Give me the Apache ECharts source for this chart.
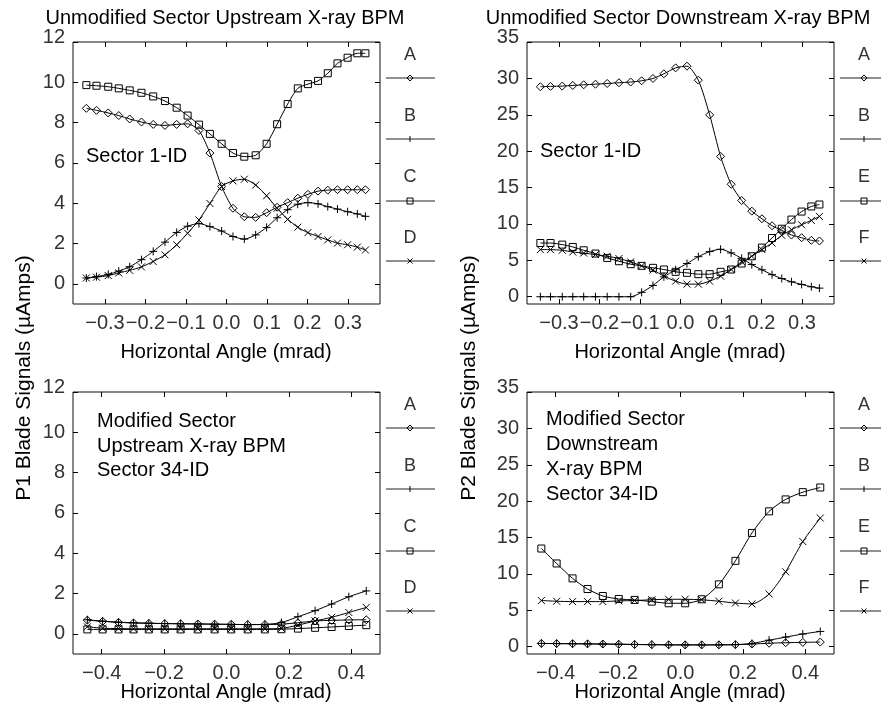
<!DOCTYPE html>
<html>
<head>
<meta charset="utf-8">
<script src="https://cdn.jsdelivr.net/npm/echarts@6/dist/echarts.min.js"></script>
<style>
  html, body { margin: 0; padding: 0; background: #fff; }
  #chart { width: 881px; height: 704px; }
</style>
</head>
<body>
<div id="chart"></div>
<script>
// Horizontal angle of each scan point (mrad)
const scanXSector1 = [-0.346, -0.321, -0.292, -0.266, -0.239, -0.210, -0.181, -0.152, -0.123,
  -0.096, -0.068, -0.041, -0.012, 0.016, 0.044, 0.072, 0.099, 0.125, 0.151, 0.176, 0.201,
  0.226, 0.250, 0.274, 0.299, 0.323, 0.343];
const scanXSector34 = [-0.446, -0.397, -0.346, -0.298, -0.249, -0.198, -0.147, -0.092, -0.038,
  0.015, 0.068, 0.123, 0.176, 0.229, 0.284, 0.337, 0.392, 0.448];

// Sector 1-ID, upstream BPM (P1) blade signals, µA
const s1UpA = [8.71, 8.61, 8.48, 8.35, 8.18, 8.03, 7.91, 7.86, 7.91, 7.94, 7.61, 6.49, 4.83,
  3.75, 3.33, 3.30, 3.53, 3.80, 4.03, 4.25, 4.44, 4.60, 4.65, 4.67, 4.67, 4.67, 4.67];
const s1UpB = [0.29, 0.36, 0.47, 0.63, 0.85, 1.20, 1.61, 2.07, 2.55, 2.86, 2.99, 2.84, 2.62,
  2.35, 2.22, 2.43, 2.80, 3.28, 3.68, 3.95, 4.03, 3.97, 3.83, 3.71, 3.58, 3.47, 3.35];
const s1UpC = [9.86, 9.83, 9.78, 9.70, 9.60, 9.48, 9.30, 9.07, 8.74, 8.35, 7.90, 7.44, 6.95,
  6.49, 6.31, 6.38, 6.95, 7.92, 8.92, 9.70, 9.91, 10.07, 10.45, 10.94, 11.22, 11.44, 11.44];
const s1UpD = [0.29, 0.33, 0.41, 0.54, 0.67, 0.84, 1.11, 1.44, 1.94, 2.51, 3.17, 3.99, 4.83,
  5.11, 5.19, 4.90, 4.37, 3.75, 3.20, 2.81, 2.54, 2.35, 2.18, 2.02, 1.94, 1.82, 1.68];

// Sector 1-ID, downstream BPM (P2) blade signals, µA
const s1DnA = [28.85, 28.90, 28.94, 29.03, 29.12, 29.20, 29.30, 29.40, 29.50, 29.67, 29.99,
  30.63, 31.45, 31.68, 29.76, 24.98, 19.28, 15.45, 13.22, 11.76, 10.71, 9.75, 9.12, 8.48,
  8.11, 7.75, 7.66];
const s1DnB = [0, 0, 0, 0, 0, 0, 0, 0, 0, 0.60, 1.55, 2.73, 3.70, 4.56, 5.50, 6.20, 6.52,
  6.02, 5.28, 4.42, 3.70, 3.03, 2.50, 2.05, 1.69, 1.37, 1.18];
const s1DnE = [7.38, 7.38, 7.16, 6.84, 6.38, 5.93, 5.33, 4.88, 4.47, 4.24, 3.97, 3.74, 3.42,
  3.28, 3.10, 3.10, 3.42, 3.74, 4.56, 5.56, 6.75, 8.07, 9.34, 10.60, 11.70, 12.40, 12.67];
const s1DnF = [6.47, 6.47, 6.38, 6.15, 6.00, 5.79, 5.56, 5.24, 4.79, 4.24, 3.65, 2.83, 2.14,
  1.73, 1.73, 2.14, 2.83, 3.74, 4.79, 5.56, 6.47, 7.38, 8.43, 9.20, 9.89, 10.48, 11.03];

// Sector 34-ID, upstream BPM (P1) blade signals, µA
const s34UpA = [0.68, 0.62, 0.57, 0.54, 0.52, 0.51, 0.50, 0.49, 0.48, 0.47, 0.46, 0.46, 0.48,
  0.55, 0.64, 0.67, 0.69, 0.70];
const s34UpB = [0.70, 0.63, 0.58, 0.55, 0.53, 0.51, 0.50, 0.49, 0.48, 0.47, 0.46, 0.47, 0.56,
  0.85, 1.15, 1.48, 1.84, 2.13];
const s34UpC = [0.22, 0.22, 0.22, 0.22, 0.22, 0.22, 0.22, 0.22, 0.22, 0.22, 0.22, 0.22, 0.23,
  0.26, 0.30, 0.34, 0.39, 0.43];
const s34UpD = [0.35, 0.28, 0.26, 0.25, 0.25, 0.25, 0.25, 0.25, 0.25, 0.25, 0.25, 0.25, 0.27,
  0.43, 0.64, 0.82, 1.06, 1.31];

// Sector 34-ID, downstream BPM (P2) blade signals, µA
const s34DnA = [0.45, 0.43, 0.41, 0.39, 0.37, 0.34, 0.31, 0.28, 0.26, 0.25, 0.25, 0.26, 0.28,
  0.36, 0.48, 0.55, 0.60, 0.64];
const s34DnB = [0.45, 0.43, 0.41, 0.39, 0.37, 0.34, 0.31, 0.28, 0.26, 0.25, 0.25, 0.26, 0.29,
  0.45, 0.90, 1.32, 1.75, 2.10];
const s34DnE = [13.49, 11.44, 9.39, 7.93, 6.97, 6.56, 6.43, 6.20, 5.97, 5.97, 6.52, 8.57,
  11.80, 15.63, 18.60, 20.24, 21.24, 21.88];
const s34DnF = [6.35, 6.25, 6.20, 6.20, 6.20, 6.30, 6.35, 6.45, 6.52, 6.52, 6.45, 6.25, 6.00,
  5.88, 7.25, 10.30, 14.45, 17.68];

// Tick values
const ticksXSector1 = [-0.3, -0.2, -0.1, 0.0, 0.1, 0.2, 0.3];
const ticksXSector34 = [-0.4, -0.2, 0.0, 0.2, 0.4];
const ticksYP1 = [0, 2, 4, 6, 8, 10, 12];
const ticksYP2 = [0, 5, 10, 15, 20, 25, 30, 35];

const FONT = "'Liberation Sans', Arial, Helvetica, sans-serif";
const INK = '#000';
const LABEL_INK = '#333';

const PLUS = 'path://M0,5L10,5M5,0L5,10';
const CROSS = 'path://M0,0L10,10M10,0L0,10';
const SYMBOLS = {
  diamond: { symbol: 'diamond', size: [8, 8] },
  plus: { symbol: PLUS, size: 8 },
  square: { symbol: 'rect', size: 7 },
  cross: { symbol: CROSS, size: 7 }
};

const grids = [
  { left: 73, top: 42, width: 307, height: 262 },
  { left: 527, top: 42, width: 307, height: 262 },
  { left: 73, top: 392, width: 307, height: 262 },
  { left: 527, top: 392, width: 307, height: 262 }
].map(g => Object.assign(g, { show: true, borderColor: '#111', borderWidth: 1, containLabel: false }));

function fmtX(v) {
  const s = Math.abs(v).toFixed(1);
  return v < -1e-9 ? '\u2212' + s : s;
}

const xAxes = [];
const yAxes = [];
function addAxes(gi, xr, xt, yr, yt) {
  ['bottom', 'top'].forEach(pos => {
    xAxes.push({
      type: 'value', gridIndex: gi, position: pos, min: -xr, max: xr,
      axisLine: { show: false, onZero: false }, splitLine: { show: false },
      axisTick: { show: true, inside: true, length: 5, customValues: xt,
        lineStyle: { color: INK, width: 1 } },
      axisLabel: { show: pos === 'bottom', customValues: xt, formatter: fmtX,
        fontSize: 20, fontFamily: FONT, color: LABEL_INK, margin: 9 }
    });
  });
  ['left', 'right'].forEach(pos => {
    yAxes.push({
      type: 'value', gridIndex: gi, position: pos, min: yr[0], max: yr[1],
      axisLine: { show: false, onZero: false }, splitLine: { show: false },
      axisTick: { show: true, inside: true, length: 5, customValues: yt,
        lineStyle: { color: INK, width: 1 } },
      axisLabel: { show: pos === 'left', customValues: yt,
        // the top label sits a little above the frame corner
        formatter: v => (v === yr[1] ? '{top|' + v + '}' : String(v)),
        rich: { top: { fontSize: 20, fontFamily: FONT, color: LABEL_INK, padding: [0, 0, 10, 0] } },
        fontSize: 20, fontFamily: FONT, color: LABEL_INK, margin: 8 }
    });
  });
}
addAxes(0, 0.379, ticksXSector1, [-1, 12], ticksYP1);
addAxes(1, 0.379, ticksXSector1, [-1, 35], ticksYP2);
addAxes(2, 0.492, ticksXSector34, [-1, 12], ticksYP1);
addAxes(3, 0.492, ticksXSector34, [-1, 35], ticksYP2);

function line(name, gi, xs, ys, shape) {
  const s = SYMBOLS[shape];
  return {
    type: 'line', name, xAxisIndex: gi * 2, yAxisIndex: gi * 2,
    data: xs.map((x, i) => [x, ys[i]]),
    symbol: s.symbol, symbolSize: s.size, showAllSymbol: true,
    smooth: 0.25, clip: true,
    lineStyle: { color: INK, width: 1 },
    itemStyle: { color: 'rgba(0,0,0,0)', borderColor: INK, borderWidth: 1 },
    emphasis: { disabled: true }, silent: true
  };
}

const series = [
  line('A', 0, scanXSector1, s1UpA, 'diamond'),
  line('B', 0, scanXSector1, s1UpB, 'plus'),
  line('C', 0, scanXSector1, s1UpC, 'square'),
  line('D', 0, scanXSector1, s1UpD, 'cross'),
  line('A', 1, scanXSector1, s1DnA, 'diamond'),
  line('B', 1, scanXSector1, s1DnB, 'plus'),
  line('E', 1, scanXSector1, s1DnE, 'square'),
  line('F', 1, scanXSector1, s1DnF, 'cross'),
  line('A', 2, scanXSector34, s34UpA, 'diamond'),
  line('B', 2, scanXSector34, s34UpB, 'plus'),
  line('C', 2, scanXSector34, s34UpC, 'square'),
  line('D', 2, scanXSector34, s34UpD, 'cross'),
  line('A', 3, scanXSector34, s34DnA, 'diamond'),
  line('B', 3, scanXSector34, s34DnB, 'plus'),
  line('E', 3, scanXSector34, s34DnE, 'square'),
  line('F', 3, scanXSector34, s34DnF, 'cross')
];

// ---- text and side keys drawn as graphic elements ----
const graphic = [];
function text(str, x, y, opt) {
  graphic.push(Object.assign({
    type: 'text', x, y, silent: true,
    style: Object.assign({ text: str, font: '20px ' + FONT, fill: INK,
      align: 'left', verticalAlign: 'middle' }, (opt && opt.style) || {})
  }, opt ? { rotation: opt.rotation || 0 } : {}));
}

function keyMarker(shape, cx, cy) {
  const st = { stroke: INK, fill: 'none', lineWidth: 1 };
  if (shape === 'diamond') {
    graphic.push({ type: 'polygon', silent: true, shape: { points: [[cx - 3, cy], [cx, cy - 3], [cx + 3, cy], [cx, cy + 3]] }, style: st });
  } else if (shape === 'square') {
    graphic.push({ type: 'rect', silent: true, shape: { x: cx - 3, y: cy - 3, width: 6, height: 6 }, style: st });
  } else if (shape === 'plus') {
    graphic.push({ type: 'line', silent: true, shape: { x1: cx, y1: cy - 3, x2: cx, y2: cy + 3 }, style: st });
  } else if (shape === 'cross') {
    graphic.push({ type: 'line', silent: true, shape: { x1: cx - 2.5, y1: cy - 2.5, x2: cx + 2.5, y2: cy + 2.5 }, style: st });
    graphic.push({ type: 'line', silent: true, shape: { x1: cx + 2.5, y1: cy - 2.5, x2: cx - 2.5, y2: cy + 2.5 }, style: st });
  }
}

function sideKey(letters, shapes, cx, x1, x2, dy) {
  const letterY = [55, 116, 177, 238];
  const lineY = [78, 139, 201, 261];
  letters.forEach((L, i) => {
    text(L, cx, letterY[i] + dy, { style: { align: 'center', font: '18px ' + FONT, fill: LABEL_INK } });
    graphic.push({ type: 'line', silent: true,
      shape: { x1, y1: lineY[i] + dy, x2, y2: lineY[i] + dy },
      style: { stroke: '#222', lineWidth: 1 } });
    keyMarker(shapes[i], cx, lineY[i] + dy);
  });
}

const keyShapes = ['diamond', 'plus', 'square', 'cross'];
sideKey(['A', 'B', 'C', 'D'], keyShapes, 410, 386, 435, 0);
sideKey(['A', 'B', 'E', 'F'], keyShapes, 864, 840, 881, 0);
sideKey(['A', 'B', 'C', 'D'], keyShapes, 410, 386, 435, 350);
sideKey(['A', 'B', 'E', 'F'], keyShapes, 864, 840, 881, 350);

// titles
text('Unmodified Sector Upstream X-ray BPM', 225, 18, { style: { align: 'center' } });
text('Unmodified Sector Downstream X-ray BPM', 678, 18, { style: { align: 'center' } });

// x-axis titles
text('Horizontal Angle (mrad)', 226, 352, { style: { align: 'center' } });
text('Horizontal Angle (mrad)', 680, 352, { style: { align: 'center' } });
text('Horizontal Angle (mrad)', 226, 692, { style: { align: 'center' } });
text('Horizontal Angle (mrad)', 680, 692, { style: { align: 'center' } });

// y-axis titles
text('P1 Blade Signals (\u00b5Amps)', 24, 378, { rotation: Math.PI / 2, style: { align: 'center', font: '21px ' + FONT } });
text('P2 Blade Signals (\u00b5Amps)', 469, 378, { rotation: Math.PI / 2, style: { align: 'center', font: '21px ' + FONT } });

// in-plot annotations
text('Sector 1-ID', 86, 156);
text('Sector 1-ID', 540, 151);
text('Modified Sector', 97, 421);
text('Upstream X-ray BPM', 97, 446);
text('Sector 34-ID', 97, 470);
text('Modified Sector', 546, 419);
text('Downstream', 546, 444);
text('X-ray BPM', 546, 469);
text('Sector 34-ID', 546, 494);

const chart = echarts.init(document.getElementById('chart'), null, { renderer: 'canvas' });
chart.setOption({
  backgroundColor: '#fff',
  animation: false,
  grid: grids,
  xAxis: xAxes,
  yAxis: yAxes,
  series,
  graphic
});
</script>
</body>
</html>
